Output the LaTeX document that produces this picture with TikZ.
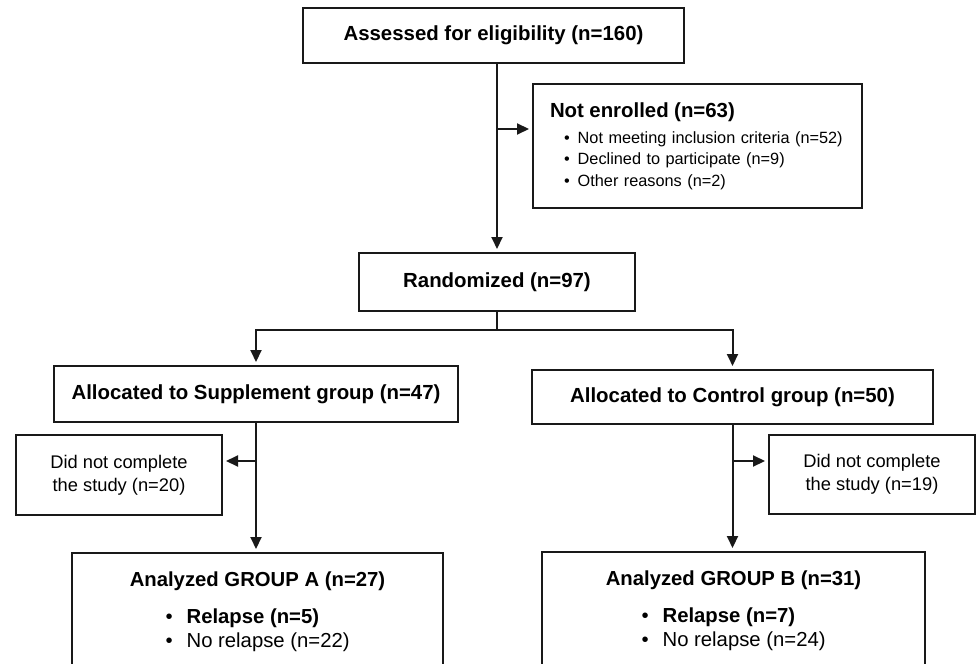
\documentclass[tikz,border=0pt]{standalone}
\usepackage{fontspec}
\setmainfont{Liberation Sans}
\usetikzlibrary{arrows.meta}

\begin{document}
\begin{tikzpicture}[x=0.5pt, y=-0.5pt,
        box/.style={draw=black!90, line width=1pt, inner sep=0pt, align=center},
        head/.style={font=\fontsize{10.2}{12}\selectfont\bfseries},
        link/.style={draw=black!90, line width=1pt},
        arr/.style={link, shorten >=1.5pt, -{Triangle[length=6pt, width=5.5pt]}}]
        \useasboundingbox (0,0) rectangle (977,663);
        \clip (0,0) rectangle (977,663);

        \node[box, head, minimum width=190.5pt, minimum height=27.5pt] (assess) at (493.5,35.5) {Assessed for eligibility (n=160)};
        \node[box, align=left, text width=147.5pt, inner xsep=8.5pt, minimum height=61.5pt,
            font=\fontsize{8.15}{10.75}\selectfont] (notenr) at (697.5,146)
            {{\fontsize{10.2}{12}\selectfont\bfseries Not enrolled (n=63)}\\[2.25pt]
            \hspace*{7pt}\textbullet\hspace{4pt}Not meeting inclusion criteria (n=52)\\
            \hspace*{7pt}\textbullet\hspace{4pt}Declined to participate (n=9)\\
            \hspace*{7pt}\textbullet\hspace{4pt}Other reasons (n=2)};
        \node[box, head, minimum width=138pt, minimum height=29pt] (rand) at (497,282) {Randomized (n=97)};

        \node[box, head, minimum width=202pt, minimum height=28pt] (supp) at (256,394) {Allocated to Supplement group (n=47)};
        \node[box, head, minimum width=200.5pt, minimum height=27pt] (ctrl) at (732.5,397) {Allocated to Control group (n=50)};

        \node[box, font=\fontsize{9.15}{11.5}\selectfont, minimum width=103pt, minimum height=40pt] (dncA) at (119,475) {Did not complete\\the study (n=20)};
        \node[box, font=\fontsize{9.15}{11.5}\selectfont, minimum width=103pt, minimum height=39.5pt] (dncB) at (872,474.5) {Did not complete\\the study (n=19)};

        \node[box, anchor=north, minimum width=185.5pt, inner ysep=9.5pt, font=\fontsize{10.15}{12}\selectfont] (anaA) at (257.5,552)
            {{\bfseries Analyzed GROUP A (n=27)}\\[6.5pt]
            \makebox[92pt][l]{\textbullet\hspace{7pt}\textbf{Relapse (n=5)}}\\
            \makebox[92pt][l]{\textbullet\hspace{7pt}No relapse (n=22)}\\[12pt]~};
        \node[box, anchor=north, minimum width=191.5pt, inner ysep=9.5pt, font=\fontsize{10.15}{12}\selectfont] (anaB) at (733.5,551)
            {{\bfseries Analyzed GROUP B (n=31)}\\[6.5pt]
            \makebox[92pt][l]{\textbullet\hspace{7pt}\textbf{Relapse (n=7)}}\\
            \makebox[92pt][l]{\textbullet\hspace{7pt}No relapse (n=24)}\\[12pt]~};

        % enrolment
        \draw[arr] (assess.south -| rand.north) -- (rand.north);
        \coordinate (split) at (497,129);
        \draw[arr] (split) -- (split -| notenr.west);

        % allocation
        \draw[link] (rand.south) -- ++(0,18) coordinate (fork);
        \draw[arr] (fork) -| (supp.north);
        \draw[arr] (fork) -| (ctrl.north);

        % follow-up
        \draw[arr] (supp.south) -- (supp.south |- anaA.north);
        \coordinate (outA) at (256,461);
        \draw[arr] (outA) -- (outA -| dncA.east);
        \draw[arr] (ctrl.south) -- (ctrl.south |- anaB.north);
        \coordinate (outB) at (732.5,461);
        \draw[arr] (outB) -- (outB -| dncB.west);
\end{tikzpicture}
\end{document}
